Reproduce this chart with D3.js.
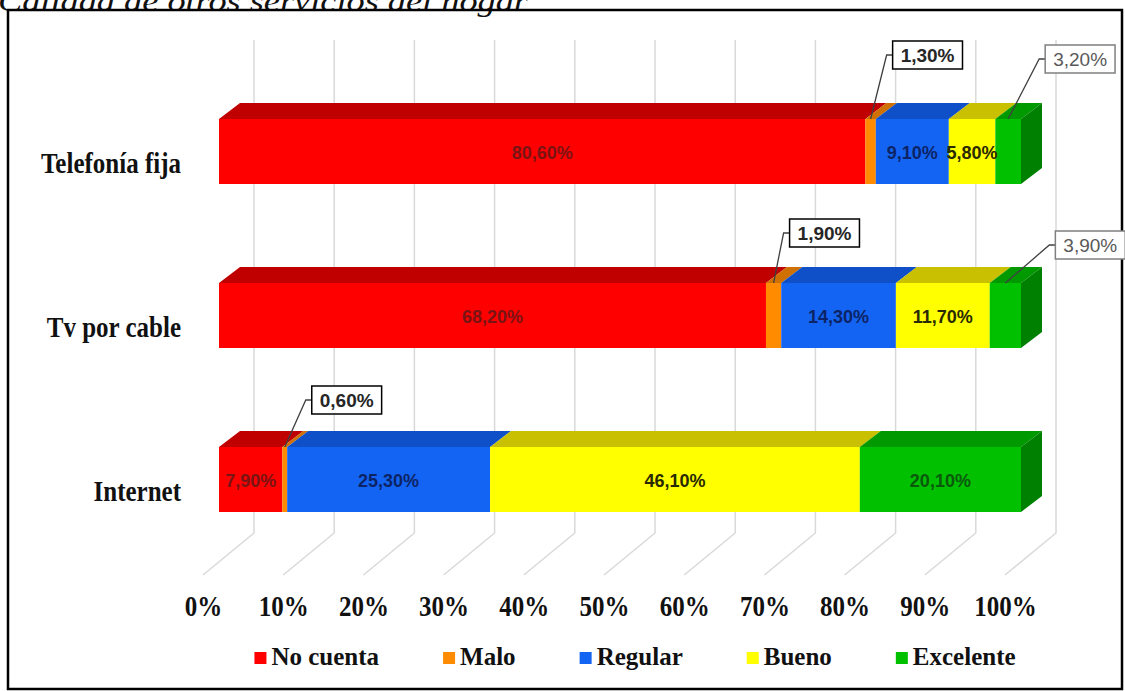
<!DOCTYPE html>
<html>
<head>
<meta charset="utf-8">
<script src="https://cdn.jsdelivr.net/npm/d3@7"></script>
<style>
  body { margin: 0; background: #fff; }
  svg { display: block; }
  .serif { font-family: "Liberation Serif", "Times New Roman", serif; font-weight: bold; fill: #111; }
  .sans { font-family: "Liberation Sans", Arial, sans-serif; font-weight: bold; }
</style>
</head>
<body>
<div id="chart"></div>
<script>
// datos del gráfico
const title = "Calidad de otros servicios del hogar";
const categories = ["Telefonía fija", "Tv por cable", "Internet"];
const series = ["No cuenta", "Malo", "Regular", "Bueno", "Excelente"];
const noCuenta = [80.6, 68.2, 7.9];
const malo = [1.3, 1.9, 0.6];
const regular = [9.1, 14.3, 25.3];
const bueno = [5.8, 11.7, 46.1];
const excelente = [3.2, 3.9, 20.1];
const xTicks = [0, 10, 20, 30, 40, 50, 60, 70, 80, 90, 100];
// etiquetas que van en recuadro fuera de la barra
const callouts = [
  { cat: "Telefonía fija", serie: "Malo" },
  { cat: "Telefonía fija", serie: "Excelente" },
  { cat: "Tv por cable", serie: "Malo" },
  { cat: "Tv por cable", serie: "Excelente" },
  { cat: "Internet", serie: "Malo" },
];

const width = 1125;
const height = 691;
const DX = 21, DY = 16;          // profundidad de las barras
const FX = 51, FY = 42;          // profundidad del piso
const barH = 65;

const frontColors = ["#ff0000", "#ff8c00", "#1464f4", "#ffff00", "#00c000"];
const topColors = ["#c00000", "#d07000", "#0f50c8", "#c8c000", "#009a00"];
const sideColors = ["#a00000", "#b06000", "#0a40a0", "#a0a000", "#008000"];
const labelColors = ["#7a1414", "#333", "#0c2466", "#2a2a00", "#0b5a0b"];

// desplazamiento de los recuadros respecto al segmento
const calloutOffsets = {
  "Telefonía fija|Malo": [22, -64, true],
  "Telefonía fija|Excelente": [37, -60, false],
  "Tv por cable|Malo": [16, -50, true],
  "Tv por cable|Excelente": [50, -38, false],
  "Internet|Malo": [27, -47, true],
};

const values = [noCuenta, malo, regular, bueno, excelente];
const fmt = (v) => d3.format(".2f")(v).replace(".", ",") + "%";

const svg = d3.select("#chart").append("svg")
  .attr("width", width).attr("height", height);

// título (cortado arriba)
svg.append("text")
  .attr("x", -2).attr("y", 11)
  .attr("textLength", 530).attr("lengthAdjust", "spacingAndGlyphs")
  .style("font-family", "'Liberation Serif', serif")
  .style("font-style", "italic")
  .style("font-size", "29px")
  .attr("fill", "#111")
  .text(title);

svg.append("rect")
  .attr("x", 8).attr("y", 10).attr("width", 1114).attr("height", 679)
  .attr("fill", "none").attr("stroke", "#000").attr("stroke-width", 2.5);

// escalas
const xBar = d3.scaleLinear().domain([0, 100]).range([219, 1021]);
const xFloor = d3.scaleLinear().domain([0, 100]).range([203, 1005]);
const yScale = d3.scalePoint().domain(categories).range([151.5, 479.5]);

// rejilla: pared de fondo y piso
svg.append("g").selectAll("path")
  .data(xTicks)
  .enter()
  .append("path")
  .attr("d", (d) => {
    const fx = xFloor(d);
    return `M${fx + FX},40 V${575 - FY} L${fx},575`;
  })
  .attr("fill", "none")
  .attr("stroke", "#d9d9d9")
  .attr("stroke-width", 1.5);

// pilas por categoría
const stacked = categories.map((c, i) => {
  let acc = 0;
  return series.map((s, j) => {
    const v = values[j][i];
    const seg = { cat: c, serie: s, j: j, v: v, x0: acc, x1: acc + v };
    acc += v;
    return seg;
  });
});

const bars = svg.append("g");
stacked.forEach((segs) => {
  const g = bars.append("g");
  segs.forEach((d) => {
    const x0 = xBar(d.x0), x1 = xBar(d.x1);
    const yT = yScale(d.cat) - barH / 2;
    g.append("path")
      .attr("d", `M${x0},${yT} L${x0 + DX},${yT - DY} L${x1 + DX},${yT - DY} L${x1},${yT} Z`)
      .attr("fill", topColors[d.j]);
    g.append("rect")
      .attr("x", x0).attr("y", yT)
      .attr("width", x1 - x0).attr("height", barH)
      .attr("fill", frontColors[d.j]);
  });
  const last = segs[segs.length - 1];
  const xe = xBar(last.x1);
  const yT = yScale(last.cat) - barH / 2;
  g.append("path")
    .attr("d", `M${xe},${yT} L${xe + DX},${yT - DY} L${xe + DX},${yT + barH - DY} L${xe},${yT + barH} Z`)
    .attr("fill", sideColors[last.j]);
});

// etiquetas dentro de las barras
const isCallout = (d) => callouts.some((c) => c.cat === d.cat && c.serie === d.serie);
const allSegs = stacked.flat();

svg.append("g").selectAll("text")
  .data(allSegs.filter((d) => !isCallout(d)))
  .enter()
  .append("text")
  .attr("class", "sans")
  .attr("x", (d) => (xBar(d.x0) + xBar(d.x1)) / 2)
  .attr("y", (d) => yScale(d.cat) + 7)
  .attr("text-anchor", "middle")
  .style("font-size", "18px")
  .attr("fill", (d) => labelColors[d.j])
  .text((d) => fmt(d.v));

// recuadros con línea guía
const cg = svg.append("g").selectAll("g")
  .data(allSegs.filter(isCallout))
  .enter()
  .append("g");

cg.each(function (d) {
  const g = d3.select(this);
  const off = calloutOffsets[d.cat + "|" + d.serie];
  const bold = off[2];
  const ax = (xBar(d.x0) + xBar(d.x1)) / 2;
  const ay = yScale(d.cat) - barH / 2;
  const bx = ax + off[0], by = ay + off[1];
  const t = g.append("text")
    .attr("class", "sans")
    .attr("x", bx + 36).attr("y", by + 7)
    .attr("text-anchor", "middle")
    .style("font-size", "19px")
    .style("font-weight", bold ? "bold" : "normal")
    .attr("fill", bold ? "#262626" : "#595959")
    .text(fmt(d.v));
  const w = t.node().getComputedTextLength() + 16;
  t.attr("x", bx + w / 2);
  g.insert("rect", "text")
    .attr("x", bx).attr("y", by - 14)
    .attr("width", w).attr("height", 28)
    .attr("fill", "#fff")
    .attr("stroke", bold ? "#000" : "#7f7f7f")
    .attr("stroke-width", 1.5);
  g.insert("path", "rect")
    .attr("d", `M${bx},${by} H${bx - 6} L${ax},${ay}`)
    .attr("fill", "none")
    .attr("stroke", "#404040")
    .attr("stroke-width", 1.3);
});

// eje x
const xAxis = d3.axisBottom(xFloor)
  .tickValues(xTicks)
  .tickSize(0)
  .tickPadding(0)
  .tickFormat((d) => d + "%");

const xAxisG = svg.append("g").attr("transform", "translate(0,616)").call(xAxis);
xAxisG.select(".domain").remove();
xAxisG.selectAll("text")
  .attr("class", "serif")
  .attr("y", 0).attr("dy", null)
  .attr("transform", "scale(1,1.15)")
  .style("font-size", "25px");

// eje y (categorías)
const yAxis = d3.axisLeft(yScale).tickSize(0).tickPadding(0);
const yAxisG = svg.append("g").attr("transform", "translate(181,0)").call(yAxis);
yAxisG.select(".domain").remove();
yAxisG.selectAll("text")
  .attr("class", "serif")
  .attr("x", 0).attr("dy", null)
  .attr("transform", "translate(0,21) scale(1,1.15)")
  .style("font-size", "25px");

// leyenda
const legend = svg.append("g");
const items = legend.selectAll("g")
  .data(series)
  .enter()
  .append("g");

items.append("rect")
  .attr("width", 12).attr("height", 12)
  .attr("y", -13)
  .attr("fill", (d, i) => frontColors[i]);

items.append("text")
  .attr("class", "serif")
  .attr("x", 17)
  .style("font-size", "25px")
  .text((d) => d);

let lx = 0;
items.each(function () {
  const g = d3.select(this);
  g.attr("transform", `translate(${lx},665)`);
  lx += 17 + g.select("text").node().getComputedTextLength() + 64;
});
const total = lx - 64;
legend.attr("transform", `translate(${635 - total / 2},0)`);
</script>
</body>
</html>
